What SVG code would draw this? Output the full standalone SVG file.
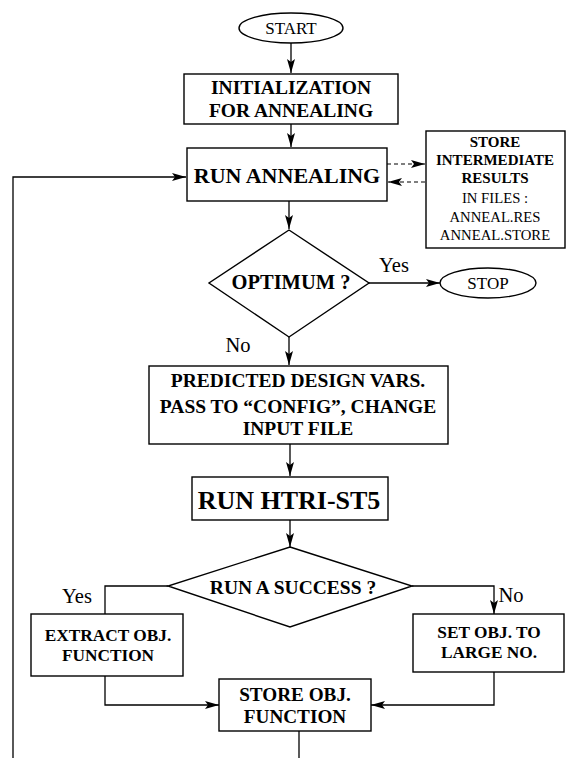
<svg xmlns="http://www.w3.org/2000/svg" width="566" height="758" viewBox="0 0 566 758">
<style>
.box{fill:#fff;stroke:#000;stroke-width:1.4}
.ln{fill:none;stroke:#000;stroke-width:1.3}
.dash{fill:none;stroke:#000;stroke-width:1.2;stroke-dasharray:4 3}
.b{font-family:"Liberation Serif","Times New Roman",serif;font-weight:bold;text-anchor:middle;fill:#000}
.r{font-family:"Liberation Serif","Times New Roman",serif;text-anchor:middle;fill:#000}
</style>
<defs>
<marker id="ah" viewBox="0 0 14 8" refX="14" refY="4" markerWidth="14" markerHeight="8" markerUnits="userSpaceOnUse" orient="auto">
<path d="M0,0 L14,4 L0,8 L3,4 Z" fill="#000"/>
</marker>
</defs>
<rect width="566" height="758" fill="#fff"/>
<g id="connectors">
<line class="ln" x1="291" y1="43" x2="291" y2="73" marker-end="url(#ah)"/>
<line class="ln" x1="291" y1="124" x2="291" y2="147" marker-end="url(#ah)"/>
<line class="ln" x1="289" y1="201" x2="289" y2="229" marker-end="url(#ah)"/>
<line class="ln" x1="369" y1="283" x2="440" y2="283" marker-end="url(#ah)"/>
<line class="ln" x1="289" y1="337" x2="289" y2="365" marker-end="url(#ah)"/>
<line class="ln" x1="290" y1="444" x2="290" y2="476" marker-end="url(#ah)"/>
<line class="ln" x1="290" y1="520" x2="290" y2="547" marker-end="url(#ah)"/>
<polyline class="ln" points="168,586 105,586 105,614"/>
<polyline class="ln" points="412,586 494,586 494,614" marker-end="url(#ah)"/>
<polyline class="ln" points="105,676 105,705 219,705" marker-end="url(#ah)"/>
<polyline class="ln" points="494,672 494,705 371,705" marker-end="url(#ah)"/>
<line class="ln" x1="299" y1="731" x2="299" y2="758"/>
<polyline class="ln" points="13,758 13,177 186,177" marker-end="url(#ah)"/>
<line class="dash" x1="387" y1="164" x2="425" y2="164" marker-end="url(#ah)"/>
<line class="dash" x1="425" y1="182" x2="388" y2="182" marker-end="url(#ah)"/>
</g>
<g id="start">
<ellipse class="box" cx="291" cy="28" rx="52" ry="15"/>
<text class="r" x="291" y="34" font-size="17">START</text>
</g>
<g id="init">
<rect class="box" x="184" y="74" width="214" height="50"/>
<text class="b" x="291" y="94" font-size="19.5">INITIALIZATION</text>
<text class="b" x="291" y="117" font-size="19.5">FOR ANNEALING</text>
</g>
<g id="run">
<rect class="box" x="187" y="148" width="200" height="53"/>
<text class="b" x="287" y="183" font-size="22">RUN ANNEALING</text>
</g>
<g id="store-intermediate">
<rect class="box" x="426" y="131" width="139" height="117"/>
<text class="b" x="495" y="147" font-size="15">STORE</text>
<text class="b" x="495" y="165" font-size="15">INTERMEDIATE</text>
<text class="b" x="495" y="183" font-size="15">RESULTS</text>
<text class="r" x="495" y="203" font-size="14.7">IN FILES :</text>
<text class="r" x="495" y="222" font-size="14.7">ANNEAL.RES</text>
<text class="r" x="495" y="240" font-size="14.7">ANNEAL.STORE</text>
</g>
<g id="optimum">
<polygon class="box" points="289,230 369,283 289,337 209,283"/>
<text class="b" x="291" y="289" font-size="20.5">OPTIMUM ?</text>
</g>
<g id="stop">
<ellipse class="box" cx="488" cy="283" rx="48" ry="15"/>
<text class="r" x="488" y="289" font-size="17">STOP</text>
</g>
<g id="labels">
<text class="r" x="394" y="272" font-size="20.5">Yes</text>
<text class="r" x="238" y="352" font-size="20.5">No</text>
<text class="r" x="77" y="603" font-size="20.5">Yes</text>
<text class="r" x="511" y="602" font-size="20.5">No</text>
</g>
<g id="predicted">
<rect class="box" x="149" y="366" width="299" height="78"/>
<text class="b" x="298" y="387" font-size="19.5">PREDICTED DESIGN VARS.</text>
<text class="b" x="298" y="413" font-size="19.5">PASS TO “CONFIG”, CHANGE</text>
<text class="b" x="298" y="435" font-size="19.5">INPUT FILE</text>
</g>
<g id="htri">
<rect class="box" x="192" y="477" width="196" height="43"/>
<text class="b" x="289" y="509" font-size="26">RUN HTRI-ST5</text>
</g>
<g id="success">
<polygon class="box" points="290,547 412,586 290,627 168,586"/>
<text class="b" x="293" y="594" font-size="19.5">RUN A SUCCESS ?</text>
</g>
<g id="extract">
<rect class="box" x="31" y="614" width="152" height="62"/>
<text class="b" x="108" y="641" font-size="17.3">EXTRACT OBJ.</text>
<text class="b" x="108" y="661" font-size="17.3">FUNCTION</text>
</g>
<g id="set">
<rect class="box" x="413" y="614" width="151" height="58"/>
<text class="b" x="489" y="638" font-size="17.3">SET OBJ. TO</text>
<text class="b" x="489" y="658" font-size="17.3">LARGE NO.</text>
</g>
<g id="store-obj">
<rect class="box" x="219" y="679" width="152" height="52"/>
<text class="b" x="295" y="701" font-size="19.2">STORE OBJ.</text>
<text class="b" x="295" y="723" font-size="19.2">FUNCTION</text>
</g>
</svg>
